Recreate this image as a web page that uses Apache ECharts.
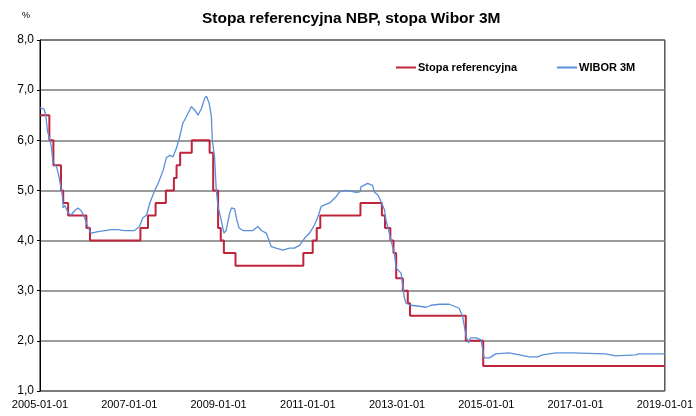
<!DOCTYPE html>
<html>
<head>
<meta charset="utf-8">
<script src="https://cdn.jsdelivr.net/npm/echarts@6/dist/echarts.min.js"></script>
<style>
html,body{margin:0;padding:0;background:#fff;}
#chart{width:696px;height:416px;}
</style>
</head>
<body>
<div id="chart"></div>
<script>
// Time positions are decimal years.
const tickLabels = ['2005-01-01','2007-01-01','2009-01-01','2011-01-01','2013-01-01','2015-01-01','2017-01-01','2019-01-01'];
const yTicks = [1,2,3,4,5,6,7,8];

// Stopa referencyjna: date of change, new level
const refT = [2005.00,2005.21,2005.30,2005.47,2005.52,2005.63,2006.04,2006.12,2007.25,2007.42,2007.59,2007.82,2008.00,2008.06,2008.14,2008.40,2008.80,2008.88,2008.99,2009.05,2009.12,2009.38,2010.90,2011.11,2011.20,2011.28,2012.18,2012.66,2012.73,2012.85,2012.92,2012.98,2013.13,2013.24,2013.29,2014.54,2014.93,2019.00];
const refV = [6.50,6.00,5.50,5.00,4.75,4.50,4.25,4.00,4.25,4.50,4.75,5.00,5.25,5.50,5.75,6.00,5.75,5.00,4.25,4.00,3.75,3.50,3.75,4.00,4.25,4.50,4.75,4.50,4.25,4.00,3.75,3.25,3.00,2.75,2.50,2.00,1.50,1.50];

// WIBOR 3M
const wiborT = [2005.00,2005.09,2005.13,2005.17,2005.21,2005.25,2005.29,2005.37,2005.42,2005.45,2005.50,2005.52,2005.56,2005.63,2005.70,2005.78,2005.85,2005.92,2005.98,2006.04,2006.11,2006.15,2006.30,2006.45,2006.60,2006.74,2006.90,2007.12,2007.23,2007.30,2007.39,2007.46,2007.57,2007.65,2007.76,2007.83,2007.91,2007.98,2008.06,2008.13,2008.20,2008.28,2008.39,2008.47,2008.54,2008.62,2008.69,2008.73,2008.79,2008.84,2008.86,2008.91,2008.95,2008.99,2009.06,2009.12,2009.17,2009.25,2009.29,2009.36,2009.41,2009.46,2009.55,2009.77,2009.88,2009.96,2010.07,2010.18,2010.29,2010.44,2010.59,2010.70,2010.82,2010.93,2011.04,2011.15,2011.23,2011.30,2011.49,2011.64,2011.71,2011.86,2011.93,2012.08,2012.17,2012.19,2012.34,2012.45,2012.49,2012.57,2012.64,2012.72,2012.75,2012.81,2012.86,2012.94,2012.98,2013.09,2013.12,2013.16,2013.20,2013.31,2013.50,2013.65,2013.76,2013.95,2014.17,2014.28,2014.39,2014.47,2014.51,2014.55,2014.60,2014.65,2014.77,2014.88,2014.91,2014.95,2015.07,2015.14,2015.21,2015.51,2015.74,2015.96,2016.15,2016.26,2016.56,2016.93,2017.67,2017.90,2018.34,2018.42,2019.00];
const wiborV = [6.65,6.62,6.50,6.17,6.05,5.90,5.57,5.47,5.30,5.15,4.90,4.65,4.70,4.55,4.51,4.60,4.65,4.60,4.50,4.35,4.20,4.15,4.18,4.20,4.22,4.22,4.20,4.20,4.28,4.45,4.51,4.75,5.00,5.15,5.40,5.65,5.70,5.67,5.85,6.07,6.34,6.47,6.67,6.60,6.50,6.64,6.84,6.88,6.74,6.47,6.00,5.67,5.00,4.67,4.41,4.15,4.20,4.55,4.65,4.63,4.41,4.25,4.20,4.20,4.28,4.20,4.15,3.88,3.85,3.81,3.85,3.85,3.91,4.05,4.15,4.31,4.48,4.68,4.75,4.88,4.97,5.00,4.99,4.96,4.97,5.07,5.14,5.10,4.97,4.91,4.78,4.61,4.41,4.21,4.01,3.75,3.45,3.35,3.15,2.88,2.75,2.71,2.69,2.67,2.71,2.73,2.73,2.69,2.65,2.48,2.28,2.08,1.96,2.06,2.06,2.02,1.88,1.66,1.66,1.70,1.74,1.76,1.72,1.68,1.68,1.72,1.76,1.76,1.74,1.70,1.72,1.74,1.74];

const seriesNames = ['Stopa referencyjna','WIBOR 3M'];
const pairs = (t, v) => t.map((x, i) => [x, v[i]]);

const chart = echarts.init(document.getElementById('chart'), null, {renderer:'canvas'});
const FONT = '"Liberation Sans", Arial, sans-serif';
chart.setOption({
  animation: false,
  backgroundColor: '#fff',
  title: {
    text: 'Stopa referencyjna NBP, stopa Wibor 3M',
    left: 197, top: 6,
    textStyle: {fontFamily: FONT, fontWeight: 'bold', fontSize: 15.5, color: '#000'}
  },
  graphic: [{
    type: 'text', left: 22, top: 11,
    style: {text: '%', fontFamily: FONT, fontSize: 9, fill: '#000'}
  }],
  legend: {
    left: 391, top: 57,
    itemGap: 40, itemWidth: 20, itemHeight: 2,
    icon: 'rect',
    textStyle: {fontFamily: FONT, fontWeight: 'bold', fontSize: 11, color: '#000', padding: [0,0,0,-3]},
    data: seriesNames
  },
  grid: {left: 40, right: 30, top: 40, bottom: 25, show: true, borderColor: '#000', borderWidth: 1, backgroundColor: 'transparent'},
  xAxis: {
    type: 'value', min: 2005, max: 2019, interval: 2,
    axisLine: {show: false}, axisTick: {show: false}, splitLine: {show: false},
    axisLabel: {
      margin: 8, fontFamily: FONT, fontSize: 11, color: '#000',
      showMinLabel: true, showMaxLabel: true,
      formatter: v => tickLabels[Math.round((v - 2005) / 2)] || ''
    }
  },
  yAxis: {
    type: 'value', min: yTicks[0], max: yTicks[yTicks.length-1], interval: 1,
    axisLine: {show: true, lineStyle: {color: '#000', width: 1}},
    axisTick: {show: true, length: 3, lineStyle: {color: '#000'}},
    splitLine: {show: true, lineStyle: {color: '#7a7a7a', width: 1.5}},
    axisLabel: {margin: 6, fontFamily: FONT, fontSize: 12, color: '#000',
      formatter: v => v.toFixed(1).replace('.', ',')}
  },
  series: [
    {name: seriesNames[0], type: 'line', step: 'end', symbol: 'none',
     data: pairs(refT, refV), color: '#C0243A', lineStyle: {width: 2, color: '#C0243A'}},
    {name: seriesNames[1], type: 'line', symbol: 'none',
     data: pairs(wiborT, wiborV), color: '#5B8FDB', lineStyle: {width: 1.3, color: '#5B8FDB'}}
  ]
});
</script>
</body>
</html>
